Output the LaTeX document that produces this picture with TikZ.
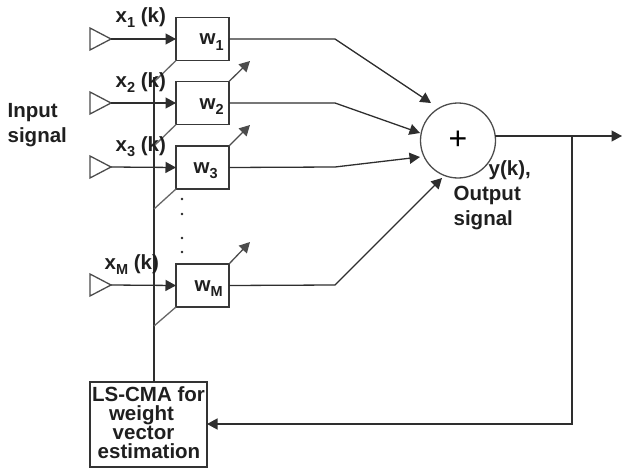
\documentclass[tikz,border=0pt]{standalone}
\usepackage{fontspec}
\setmainfont{Liberation Sans}
\usetikzlibrary{arrows.meta,shapes.geometric}
\newcommand{\subx}[1]{\raisebox{-5.5pt}{\fontsize{14.5}{14.5}\selectfont #1}}
\tikzset{
  every path/.style={line width=1.3pt},
  ln/.style={draw=black!82},
  tip/.style={ln,-{Triangle[length=10.5pt,width=11pt]}},
  wbox/.style={draw=black!78,fill=white,minimum width=53pt,minimum height=43pt,inner sep=0pt,outer sep=0pt},
  src/.style={draw=black!70,isosceles triangle,isosceles triangle stretches,minimum width=22pt,minimum height=21pt,inner sep=0pt,outer sep=0pt},
  txt/.style={font=\bfseries\fontsize{20.5}{20.5}\selectfont,inner sep=0pt,text=black!88},
  dotn/.style={circle,fill=black!85,minimum size=2.8pt,inner sep=0pt},
  wlab/.style={txt}
}
\begin{document}
\begin{tikzpicture}[x=1pt,y=-1pt]
\useasboundingbox (0,0) rectangle (622,471);
% sources
\node[src,anchor=apex] (t1) at (111,39) {};
\node[src,anchor=apex] (t2) at (111,103) {};
\node[src,anchor=apex] (t3) at (111,167) {};
\node[src,anchor=apex] (t4) at (111,285) {};
% bus and estimator
\node[draw=black!80,minimum width=117pt,minimum height=85pt,inner sep=0pt,outer sep=0pt] (ls) at (148.5,424.5) {};
\coordinate (bustop) at (154,77);
\coordinate (busbot) at (154,382);
\draw[ln] (bustop) -- (busbot);
% boxes
\node[wbox] (w1) at (202.5,39) {};
\node[wbox] (w2) at (202.5,103) {};
\node[wbox] (w3) at (202.5,167.5) {};
\node[wbox] (w4) at (202.5,285.5) {};
% summer
\node[circle,draw=black!70,minimum size=75pt,inner sep=0pt,outer sep=0pt] (sum) at (458,140.5) {};
\node[font=\fontsize{32}{32}\selectfont,inner sep=0pt] (plus) at (458,140) {+};
% inputs
\foreach \a/\b in {t1/w1,t2/w2,t3/w3,t4/w4}{\draw[tip] (\a.apex) -- (\b.west);}
% diagonals
\coordinate (d1) at (154,82);\coordinate (d2) at (154,146);\coordinate (d3) at (154,209);\coordinate (d4) at (154,326);
\draw[draw=black!60] (w1.south west) -- (d1);
\draw[draw=black!60] (w2.south west) -- (d2);
\draw[draw=black!60] (w3.south west) -- (d3);
\draw[draw=black!60] (w4.south west) -- (d4);
% adjust arrows
\coordinate (a2) at (250,61);\coordinate (a3) at (250,125);\coordinate (a4) at (250,242);
\draw[tip,draw=black!70] (w2.north east) -- (a2);
\draw[tip,draw=black!70] (w3.north east) -- (a3);
\draw[tip,draw=black!70] (w4.north east) -- (a4);
% weighted outputs
\coordinate (b1) at (335,39);\coordinate (b2) at (335,103);\coordinate (b3) at (335,167);\coordinate (b4) at (335,285);
\coordinate (s1) at (431,103);\coordinate (s2) at (420,133);\coordinate (s3) at (420,157);\coordinate (s4) at (442,178);
\draw[tip] (w1.east) -- (b1) -- (s1);
\draw[tip] (w2.east) -- (b2) -- (s2);
\draw[tip] (w3.east) -- (b3) -- (s3);
\draw[tip] (w4.east) -- (b4) -- (s4);
% output and feedback
\coordinate (out) at (622,136);
\coordinate (tap) at (572,136);
\coordinate (fb) at (572,424);
\draw[tip] (495,136) -- (out);
\draw[tip] (tap) -- (fb) -- (fb -| ls.east);
% dots
\node[dotn] (p1) at (182,199) {};\node[dotn] (p2) at (182,214) {};
\node[dotn] (p3) at (182,238) {};\node[dotn] (p4) at (182,252) {};
% labels
\node[txt,anchor=base west] (lx1) at (115,22) {x\subx{1} (k)};
\node[txt,anchor=base west] (lx2) at (115,87) {x\subx{2} (k)};
\node[txt,anchor=base west] (lx3) at (115,151) {x\subx{3} (k)};
\node[txt,anchor=base west] (lx4) at (104,269) {x\subx{M} (k)};
\node[wlab,anchor=base west] (lw1) at (199,45) {w\subx{1}};
\node[wlab,anchor=base west] (lw2) at (199,109) {w\subx{2}};
\node[wlab,anchor=base west] (lw3) at (193,173) {w\subx{3}};
\node[wlab,anchor=base west] (lw4) at (194,291) {w\subx{M}};
\node[txt,anchor=base west] (li1) at (7,117) {Input};
\node[txt,anchor=base west] (li2) at (7,142) {signal};
\node[txt,anchor=base west] (ly) at (488,175) {y(k),};
\node[txt,anchor=base west] (lo1) at (453,200) {Output};
\node[txt,anchor=base west] (lo2) at (453,225) {signal};
\node[txt,anchor=base] (ll1) at (148.5,401) {LS-CMA for};
\node[txt,anchor=base] (ll2) at (141.5,420) {weight};
\node[txt,anchor=base] (ll3) at (143.5,439) {vector};
\node[txt,anchor=base] (ll4) at (149,458) {estimation};
\end{tikzpicture}
\end{document}
